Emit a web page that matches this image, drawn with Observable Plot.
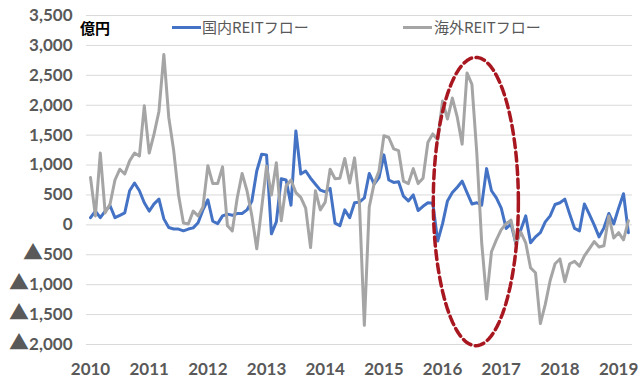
<!DOCTYPE html>
<html><head><meta charset="utf-8">
<script src="https://cdn.jsdelivr.net/npm/d3@7"></script>
<script src="https://cdn.jsdelivr.net/npm/@observablehq/plot@0.6"></script>
<style>
body{margin:0;background:#fff;}
#wrap{position:relative;width:640px;height:387px;overflow:hidden;}
.txt{position:absolute;font-family:"Noto Sans CJK JP",sans-serif;white-space:nowrap;line-height:1;}
.sw{position:absolute;height:3px;}
svg text tspan.tri{font-family:"Noto Sans CJK JP",sans-serif !important;font-size:20px !important;}
</style></head><body>
<div id="wrap"></div>
<script>
// Monthly REIT flows (億円), Jan 2010 – Mar 2019
const years = ["2010","2011","2012","2013","2014","2015","2016","2017","2018","2019"];
const seriesNames = ["国内REITフロー","海外REITフロー"];
const domestic = [
 120,230,120,230,320,120,160,200,570,700,
 570,370,230,350,430,100,-45,-70,-70,-100,
 -70,-50,35,250,420,60,20,150,180,160,
 190,190,250,400,900,1180,1170,-150,50,770,
 750,330,1570,850,900,780,680,580,550,610,
 30,-15,250,120,370,380,450,860,680,790,
 1170,750,710,720,480,400,500,240,310,370,
 360,-270,20,400,540,630,730,540,350,370,
 330,940,570,450,280,-60,15,-320,-80,150,
 -300,-200,-130,50,150,340,370,430,180,-60,
 -100,350,180,0,-200,-50,190,15,280,520,
 -130];
const overseas = [
 790,150,1200,200,350,750,930,850,1070,1200,
 1150,1990,1200,1520,1900,2850,1800,1250,500,30,
 15,230,150,300,990,690,690,970,-15,-100,
 450,860,570,150,-400,280,980,500,1040,70,
 650,750,540,460,280,-380,570,250,380,930,
 770,780,1110,700,1120,350,-1680,300,690,900,
 1490,1460,1270,1240,730,690,940,690,780,1380,
 1520,1420,2070,1770,2120,1800,1350,2540,2350,1200,
 -300,-1240,-450,-250,-80,20,80,-320,-120,-300,
 -720,-800,-1650,-1330,-930,-650,-570,-950,-650,-610,
 -690,-520,-400,-280,-370,-350,150,-220,-130,-250,
 70];
const yTicks = [-2000,-1500,-1000,-500,0,500,1000,1500,2000,2500,3000,3500];
// highlighted period (dashed ellipse), in data units: month index & 億円
const highlight = {cx: 78.8, cy: 390, rx: 8.7, ry: 2410};

const fmt = d3.format(",");
const yearTicks = years.map((y, k) => k * 12);
const ell = d3.range(0, 121).map(k => {
  const t = k / 120 * 2 * Math.PI;
  return {x: highlight.cx + highlight.rx * Math.cos(t), y: highlight.cy + highlight.ry * Math.sin(t)};
});

const chart = Plot.plot({
  width: 640, height: 387,
  marginLeft: 86, marginRight: 8, marginTop: 15, marginBottom: 43,
  style: {fontFamily: "Lato, 'DejaVu Sans', sans-serif", fontSize: "17px", fontWeight: "bold", color: "#595959", background: "#fff"},
  x: {type: "linear", domain: [-0.82, 110.84], axis: null},
  y: {domain: [-2000, 3500], axis: null},
  marks: [
    Plot.ruleY(yTicks, {stroke: "#d9d9d9", strokeWidth: 1}),
    Plot.axisY({ticks: yTicks, label: null, tickSize: 0, tickPadding: 14, fontSize: 17, tickFormat: d => d < 0 ? "\u25B2" + fmt(-d) : fmt(d)}),
    Plot.axisX({ticks: yearTicks, label: null, tickSize: 0, tickPadding: 18, fontSize: 17, tickFormat: i => years[Math.round(i / 12)]}),
    Plot.lineY(domestic, {x: (d, i) => i, y: d => d, stroke: "#4472C4", strokeWidth: 3, strokeLinejoin: "round", strokeLinecap: "round"}),
    Plot.lineY(overseas, {x: (d, i) => i, y: d => d, stroke: "#A5A5A5", strokeWidth: 3, strokeLinejoin: "round", strokeLinecap: "round"}),
    Plot.line(ell, {x: "x", y: "y", stroke: "#A8171F", strokeWidth: 3.5, strokeDasharray: "9,4.5", curve: "linear-closed"})
  ]
});
const wrap = document.getElementById("wrap");
wrap.appendChild(chart);
// enlarge the ▲ glyph in negative tick labels (kept as real text)
const NS = "http://www.w3.org/2000/svg";
chart.querySelectorAll("text").forEach(t => {
  const s = t.textContent || "";
  const k = s.indexOf("\u25B2");
  if (k >= 0) {
    while (t.firstChild) t.removeChild(t.firstChild);
    const a = document.createElementNS(NS, "tspan");
    a.setAttribute("class", "tri");
    a.textContent = "\u25B2";
    const b = document.createElementNS(NS, "tspan");
    b.textContent = s.slice(k + 1);
    t.appendChild(a); t.appendChild(b);
  }
});

function addText(t, left, top, size, color, weight) {
  const d = document.createElement("div");
  d.className = "txt"; d.textContent = t;
  Object.assign(d.style, {left: left + "px", top: top + "px", fontSize: size + "px", color: color, fontWeight: weight});
  wrap.appendChild(d);
}
function addSwatch(left, top, w, color) {
  const d = document.createElement("div");
  d.className = "sw";
  Object.assign(d.style, {left: left + "px", top: top + "px", width: w + "px", background: color});
  wrap.appendChild(d);
}
addText("億円", 80, 20, 15, "#000", "bold");
addSwatch(172, 26, 29, "#4472C4");
addText(seriesNames[0], 202, 19, 15, "#595959", "normal");
addSwatch(403, 26, 29, "#A5A5A5");
addText(seriesNames[1], 434, 19, 15, "#595959", "normal");
</script>
</body></html>
